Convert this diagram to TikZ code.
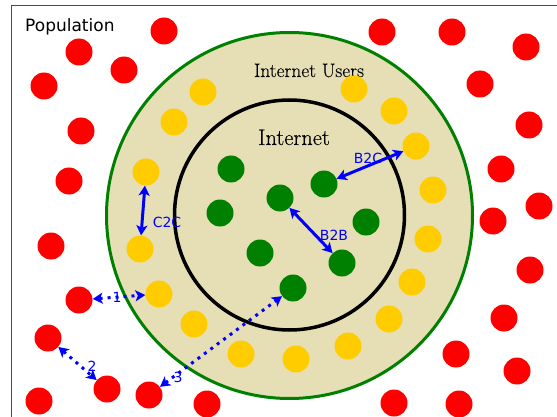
\documentclass[tikz,border=0pt]{standalone}
\usepackage{fontspec}
\newfontfamily\labelfont{DejaVu Sans}
\newfontfamily\ringfont[FakeBold=0.25]{Latin Modern Roman}
\usetikzlibrary{arrows.meta}
\definecolor{ringfill}{RGB}{230,223,181}
\definecolor{dkgreen}{RGB}{0,128,0}
\definecolor{dotred}{RGB}{255,0,0}
\definecolor{dotyellow}{RGB}{255,204,0}
\definecolor{arrowblue}{RGB}{0,0,255}
\begin{document}
\begin{tikzpicture}[x=1pt,y=-1pt,
  dotbase/.style={circle, minimum size=27pt, inner sep=0pt, draw=none},
  reddot/.style={dotbase, fill=dotred},
  yellowdot/.style={dotbase, fill=dotyellow},
  greendot/.style={dotbase, fill=dkgreen},
  link/.style={draw=arrowblue, line width=3pt, {Stealth[length=10pt,width=11pt,inset=2.5pt]}-{Stealth[length=10pt,width=11pt,inset=2.5pt]}},
  dotlink/.style={link, dash pattern=on 3pt off 5pt},
  linklabel/.style={text=arrowblue, font=\labelfont\fontsize{14}{14}\selectfont, inner sep=0pt},
  ringlabel/.style={anchor=base, inner sep=0pt},
]
\useasboundingbox (0,0) rectangle (557,417);
\clip (0,0) rectangle (557,417);
\draw[dkgreen, line width=1pt] (11,6) rectangle (640,480);

\node[circle, draw=dkgreen, line width=3pt, fill=ringfill, minimum size=366pt, inner sep=0pt] (users) at (289.5,215.5) {};
\node[circle, draw=black, line width=3.5pt, minimum size=230pt, inner sep=0pt] (internet) at (289.5,215) {};

\node[ringlabel, font=\ringfont\fontsize{19.4}{22}\selectfont] (userstext) at (309,77) {Internet Users};
\node[ringlabel, font=\ringfont\fontsize{22.4}{26}\selectfont] (nettext) at (294,145) {Internet};
\node[anchor=base west, inner sep=0pt, font=\labelfont\fontsize{17}{20}\selectfont] (poptext) at (25,32) {Population};

% red dots
\foreach \n/\p in {1/{(164,31)},2/{(79,52)},3/{(124,70)},4/{(44,86)},5/{(81,131)},6/{(69,181)},
  7/{(51,246)},8/{(79,300)},9/{(48,338)},10/{(107,389)},11/{(149,395)},12/{(39,401)},13/{(207,404)},
  14/{(382,32)},15/{(452,32)},16/{(526,47)},17/{(480,84)},18/{(529,125)},19/{(501,169)},20/{(539,206)},
  21/{(493,221)},22/{(530,270)},23/{(504,318)},24/{(456,354)},25/{(517,371)},26/{(394,403)},27/{(459,404)}}
  \node[reddot] (r\n) at \p {};
% yellow dots
\foreach \n/\p in {1/{(203,92)},2/{(174,122)},3/{(146,172)},4/{(140,249)},5/{(159,294)},6/{(194,324)},
  7/{(241,354)},8/{(296,359)},9/{(348,346)},10/{(389,319)},11/{(412,282)},12/{(428,239)},
  13/{(433,190)},14/{(416,146)},15/{(394,111)},16/{(354,89)}}
  \node[yellowdot] (y\n) at \p {};
% green dots
\foreach \n/\p in {1/{(231,169)},2/{(280,198)},3/{(324,184)},4/{(220,213)},5/{(366,222)},6/{(260,253)},7/{(342,263)},8/{(293,288)}}
  \node[greendot] (g\n) at \p {};

% connectors
\draw[link] (y3) -- (y4);
\draw[link] (g3) -- (y14);
\draw[link] (g2) -- (g7);
\draw[dotlink] (r8) -- (y5);
\draw[dotlink] (r9) -- (r10);
\draw[dotlink] (r11) -- (g8);

% labels
\node[linklabel] (lc2c) at (167,222) {C2C};
\node[linklabel] (lb2c) at (368,158) {B2C};
\node[linklabel] (lb2b) at (334,235) {B2B};
\node[linklabel] (l1) at (117,297) {1};
\node[linklabel] (l2) at (92,366) {2};
\node[linklabel] (l3) at (178,377) {3};
\end{tikzpicture}
\end{document}
